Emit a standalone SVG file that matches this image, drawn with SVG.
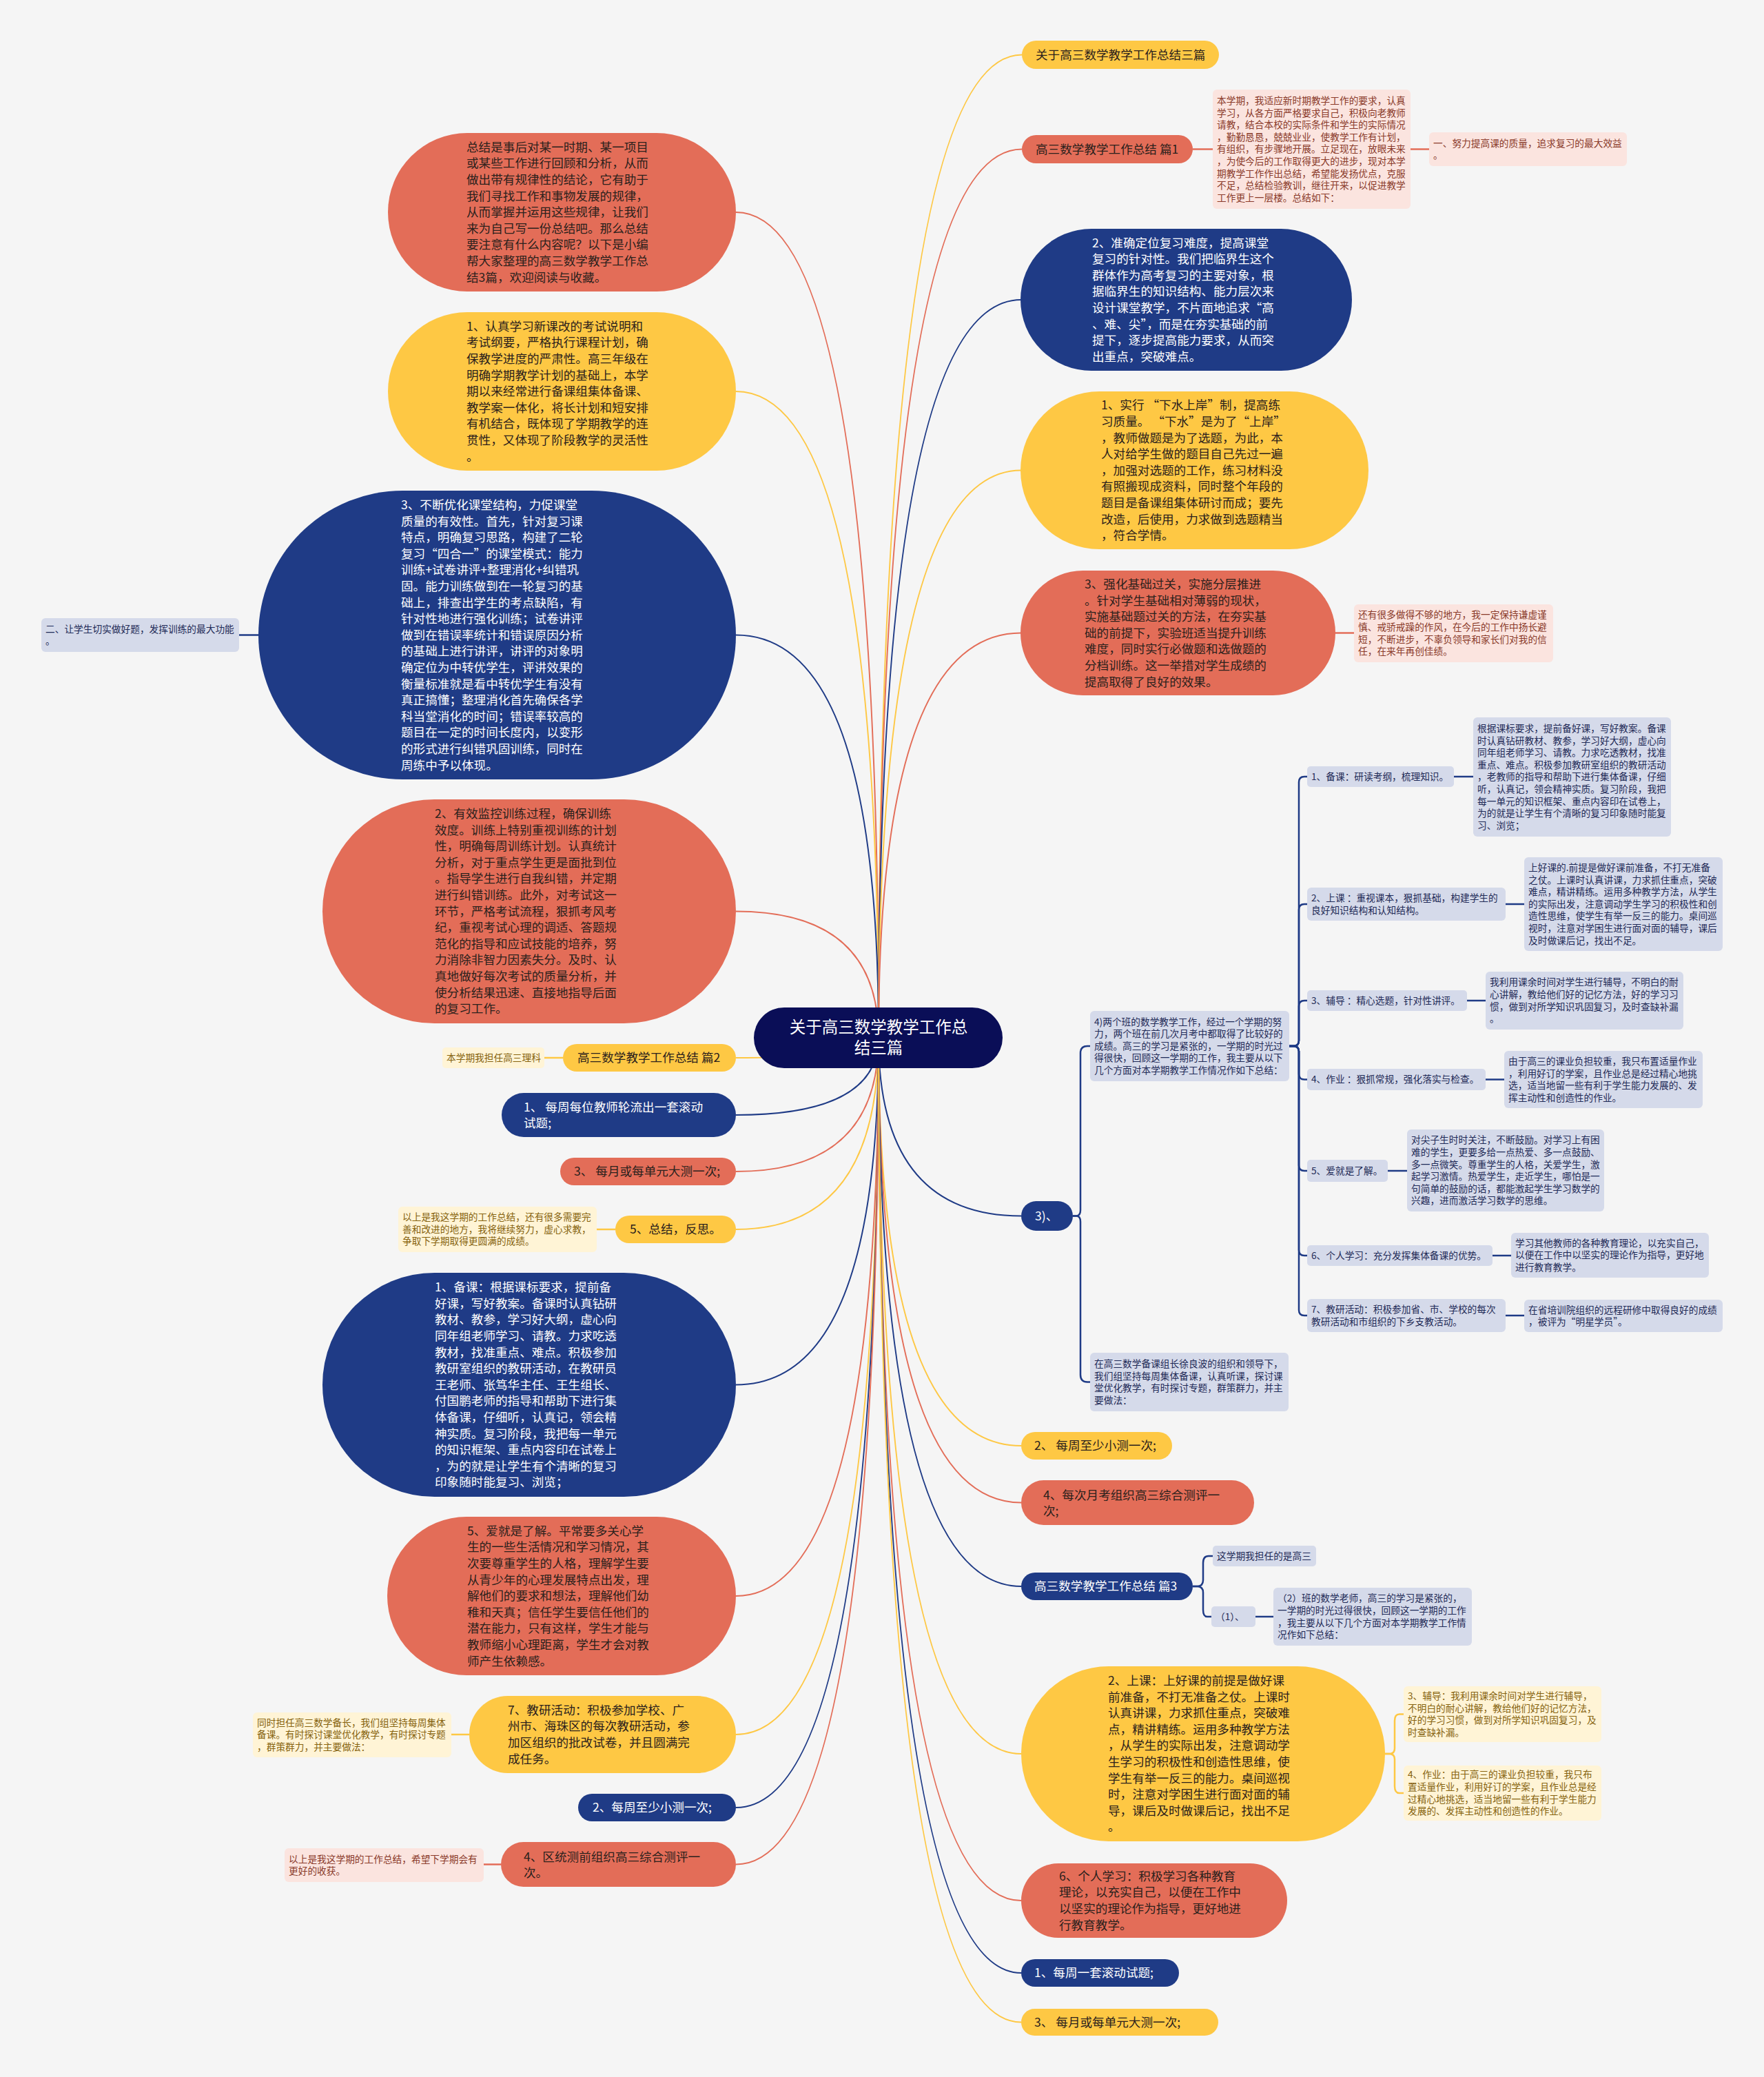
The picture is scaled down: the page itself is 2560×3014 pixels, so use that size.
<svg xmlns="http://www.w3.org/2000/svg" width="2560" height="3014" viewBox="0 0 2560 3014">
<style>
text{font-family:"Noto Sans CJK SC","Noto Sans",sans-serif;}
.L{font-size:17.6px}
.S{font-size:13.7px}
.C{font-size:23.5px}
.dk{fill:#2B211C}
.wt{fill:#FFFFFF}
.red{fill:#E36D58}
.yel{fill:#FEC844}
.blu{fill:#1F3B86}
.ctr{fill:#0A0E57}
.bp{fill:#FBE4DF}.tp{fill:#8A3A2A}
.by{fill:#FFF4D6}.ty{fill:#86630F}
.bb{fill:#D5DAEA}.tb{fill:#1F2A57}
.cr,.cy,.cb{fill:none;stroke-width:2}
.cr{stroke:#E36D58}.cy{stroke:#FEC844}.cb{stroke:#1F3B86}
.k{stroke-width:2.5}
</style>
<rect x="0" y="0" width="2560" height="3014" fill="#F5F5F5"/>

<g id="connectors">
<!-- center to left -->
<path class="cr" d="M1275,1506 Q1275,308 1068,308"/>
<path class="cy" d="M1275,1506 Q1275,568 1068,568"/>
<path class="cb" d="M1275,1506 Q1275,921.5 1068,921.5"/>
<path class="cr" d="M1275,1506 Q1275,1322.5 1068,1322.5"/>
<path class="cy" d="M1275,1506 Q1275,1535 1068,1535"/>
<path class="cb" d="M1275,1506 Q1275,1618 1068,1618"/>
<path class="cr" d="M1275,1506 Q1275,1700 1068,1700"/>
<path class="cy" d="M1275,1506 Q1275,1784 1068,1784"/>
<path class="cb" d="M1275,1506 Q1275,2009.5 1068,2009.5"/>
<path class="cr" d="M1275,1506 Q1275,2316 1068,2316"/>
<path class="cy" d="M1275,1506 Q1275,2517 1068,2517"/>
<path class="cb" d="M1275,1506 Q1275,2623 1068,2623"/>
<path class="cr" d="M1275,1506 Q1275,2705.5 1068,2705.5"/>
<!-- center to right -->
<path class="cy" d="M1275,1506 Q1275,79.5 1483,79.5"/>
<path class="cr" d="M1275,1506 Q1275,216.5 1483,216.5"/>
<path class="cb" d="M1275,1506 Q1275,435 1482,435"/>
<path class="cy" d="M1275,1506 Q1275,682.5 1482,682.5"/>
<path class="cr" d="M1275,1506 Q1275,918.5 1482,918.5"/>
<path class="cb" d="M1275,1506 Q1275,1764.5 1482,1764.5"/>
<path class="cy" d="M1275,1506 Q1275,2098 1482,2098"/>
<path class="cr" d="M1275,1506 Q1275,2180.5 1482,2180.5"/>
<path class="cb" d="M1275,1506 Q1275,2302 1482,2302"/>
<path class="cy" d="M1275,1506 Q1275,2545 1482,2545"/>
<path class="cr" d="M1275,1506 Q1275,2758 1482,2758"/>
<path class="cb" d="M1275,1506 Q1275,2863 1482,2863"/>
<path class="cy" d="M1275,1506 Q1275,2934.5 1482,2934.5"/>
<!-- left leaves -->
<path class="cb k" d="M375,921.5 H347"/>
<path class="cy k" d="M817,1535 H790"/>
<path class="cy k" d="M893,1784 H866"/>
<path class="cy k" d="M681,2517 H655"/>
<path class="cr k" d="M727,2705.5 H702"/>
<!-- right leaves -->
<path class="cr k" d="M1731,216.5 H1760 M2047,216.5 H2074"/>
<path class="cr k" d="M1938,918.5 H1965"/>
<path class="cb k" d="M1557,1764.5 H1562 Q1568,1764.5 1568,1756 V1528 Q1568,1518 1578,1518 H1582"/>
<path class="cb k" d="M1557,1764.5 H1562 Q1568,1764.5 1568,1773 V1995 Q1568,2005.5 1578,2005.5 H1582"/>
<path class="cb k" d="M1871,1518 H1877 Q1885,1518 1885,1510 V1135 Q1885,1127 1893,1127 H1897"/>
<path class="cb k" d="M1871,1518 H1877 Q1885,1518 1885,1510 V1320 Q1885,1312 1893,1312 H1897"/>
<path class="cb k" d="M1871,1518 H1877 Q1885,1518 1885,1510 V1460 Q1885,1452 1893,1452 H1897"/>
<path class="cb k" d="M1871,1518 H1877 Q1885,1518 1885,1526 V1558.5 Q1885,1566.5 1893,1566.5 H1897"/>
<path class="cb k" d="M1871,1518 H1877 Q1885,1518 1885,1526 V1691 Q1885,1699 1893,1699 H1897"/>
<path class="cb k" d="M1871,1518 H1877 Q1885,1518 1885,1526 V1814 Q1885,1822 1893,1822 H1897"/>
<path class="cb k" d="M1871,1518 H1877 Q1885,1518 1885,1526 V1901 Q1885,1909 1893,1909 H1897"/>
<path class="cb k" d="M2110,1127 H2138 M2185,1312 H2212 M2129,1452 H2156 M2156,1566.5 H2183 M2014,1699 H2042 M2166,1822 H2193 M2185,1909 H2212"/>
<path class="cb k" d="M1731,2302 H1737 Q1746,2302 1746,2293 V2268 Q1746,2258 1754,2258 H1760"/>
<path class="cb k" d="M1731,2302 H1737 Q1746,2302 1746,2311 V2336 Q1746,2346 1752,2346 H1758"/>
<path class="cb k" d="M1822,2346 H1848"/>
<path class="cy k" d="M2010,2545 H2016 Q2024,2545 2024,2537 V2497 Q2024,2487.5 2031,2487.5 H2037"/>
<path class="cy k" d="M2010,2545 H2016 Q2024,2545 2024,2553 V2592 Q2024,2602 2031,2602 H2037"/>
</g>

<g id="center">
<rect class="ctr" x="1094" y="1462" width="361" height="88" rx="44"/>
<text class="C wt" text-anchor="middle"><tspan x="1275" y="1499">关于高三数学教学工作总</tspan><tspan x="1275" y="1529">结三篇</tspan></text>
</g>

<g id="n-intro">
<rect class="red" x="563" y="193" width="505" height="230" rx="115"/>
<text class="L dk" x="677" y="219.8"><tspan x="677">总结是事后对某一时期、某一项目</tspan><tspan x="677" dy="23.6">或某些工作进行回顾和分析，从而</tspan><tspan x="677" dy="23.6">做出带有规律性的结论，它有助于</tspan><tspan x="677" dy="23.6">我们寻找工作和事物发展的规律，</tspan><tspan x="677" dy="23.6">从而掌握并运用这些规律，让我们</tspan><tspan x="677" dy="23.6">来为自己写一份总结吧。那么总结</tspan><tspan x="677" dy="23.6">要注意有什么内容呢？以下是小编</tspan><tspan x="677" dy="23.6">帮大家整理的高三数学教学工作总</tspan><tspan x="677" dy="23.6">结3篇，欢迎阅读与收藏。</tspan></text>
</g>

<g id="n-l-1">
<rect class="yel" x="563" y="453" width="505" height="230" rx="115"/>
<text class="L dk" x="677" y="479.8"><tspan x="677">1、认真学习新课改的考试说明和</tspan><tspan x="677" dy="23.6">考试纲要，严格执行课程计划，确</tspan><tspan x="677" dy="23.6">保教学进度的严肃性。高三年级在</tspan><tspan x="677" dy="23.6">明确学期教学计划的基础上，本学</tspan><tspan x="677" dy="23.6">期以来经常进行备课组集体备课、</tspan><tspan x="677" dy="23.6">教学案一体化，将长计划和短安排</tspan><tspan x="677" dy="23.6">有机结合，既体现了学期教学的连</tspan><tspan x="677" dy="23.6">贯性，又体现了阶段教学的灵活性</tspan><tspan x="677" dy="23.6">。</tspan></text>
</g>

<g id="n-l-3">
<rect class="blu" x="375" y="712" width="693" height="419" rx="209.5"/>
<text class="L wt" x="582" y="738.9"><tspan x="582">3、不断优化课堂结构，力促课堂</tspan><tspan x="582" dy="23.6">质量的有效性。首先，针对复习课</tspan><tspan x="582" dy="23.6">特点，明确复习思路，构建了二轮</tspan><tspan x="582" dy="23.6">复习“四合一”的课堂模式：能力</tspan><tspan x="582" dy="23.6">训练+试卷讲评+整理消化+纠错巩</tspan><tspan x="582" dy="23.6">固。能力训练做到在一轮复习的基</tspan><tspan x="582" dy="23.6">础上，排查出学生的考点缺陷，有</tspan><tspan x="582" dy="23.6">针对性地进行强化训练；试卷讲评</tspan><tspan x="582" dy="23.6">做到在错误率统计和错误原因分析</tspan><tspan x="582" dy="23.6">的基础上进行讲评，讲评的对象明</tspan><tspan x="582" dy="23.6">确定位为中转优学生，评讲效果的</tspan><tspan x="582" dy="23.6">衡量标准就是看中转优学生有没有</tspan><tspan x="582" dy="23.6">真正搞懂；整理消化首先确保各学</tspan><tspan x="582" dy="23.6">科当堂消化的时间；错误率较高的</tspan><tspan x="582" dy="23.6">题目在一定的时间长度内，以变形</tspan><tspan x="582" dy="23.6">的形式进行纠错巩固训练，同时在</tspan><tspan x="582" dy="23.6">周练中予以体现。</tspan></text>
</g>
<g id="n-l-3-leaf">
<rect class="bb" x="60" y="897" width="287" height="49" rx="6"/>
<text class="S tb" x="66" y="917.5"><tspan x="66">二、让学生切实做好题，发挥训练的最大功能</tspan><tspan x="66" dy="17.6">。</tspan></text>
</g>

<g id="n-l-2">
<rect class="red" x="468" y="1160" width="600" height="325" rx="162.5"/>
<text class="L dk" x="631" y="1187"><tspan x="631">2、有效监控训练过程，确保训练</tspan><tspan x="631" dy="23.6">效度。训练上特别重视训练的计划</tspan><tspan x="631" dy="23.6">性，明确每周训练计划。认真统计</tspan><tspan x="631" dy="23.6">分析，对于重点学生更是面批到位</tspan><tspan x="631" dy="23.6">。指导学生进行自我纠错，并定期</tspan><tspan x="631" dy="23.6">进行纠错训练。此外，对考试这一</tspan><tspan x="631" dy="23.6">环节，严格考试流程，狠抓考风考</tspan><tspan x="631" dy="23.6">纪，重视考试心理的调适、答题规</tspan><tspan x="631" dy="23.6">范化的指导和应试技能的培养，努</tspan><tspan x="631" dy="23.6">力消除非智力因素失分。及时、认</tspan><tspan x="631" dy="23.6">真地做好每次考试的质量分析，并</tspan><tspan x="631" dy="23.6">使分析结果迅速、直接地指导后面</tspan><tspan x="631" dy="23.6">的复习工作。</tspan></text>
</g>

<g id="n-pian2">
<rect class="yel" x="817" y="1515" width="251" height="40" rx="20"/>
<text class="L dk" x="838" y="1541.2">高三数学教学工作总结 篇2</text>
</g>
<g id="n-pian2-leaf">
<rect class="by" x="642" y="1520" width="148" height="30" rx="5"/>
<text class="S ty" x="648" y="1539.8">本学期我担任高三理科</text>
</g>

<g id="n-l-week1">
<rect class="blu" x="728" y="1586" width="340" height="64" rx="32"/>
<text class="L wt" x="760" y="1612.8"><tspan x="760">1、 每周每位教师轮流出一套滚动</tspan><tspan x="760" dy="23.6">试题;</tspan></text>
</g>
<g id="n-l-month3">
<rect class="red" x="813" y="1680" width="255" height="40" rx="20"/>
<text class="L dk" x="833" y="1706.2">3、 每月或每单元大测一次;</text>
</g>
<g id="n-l-5sum">
<rect class="yel" x="893" y="1764" width="175" height="40" rx="20"/>
<text class="L dk" x="914" y="1790.2">5、总结，反思。</text>
</g>
<g id="n-l-5sum-leaf">
<rect class="by" x="578" y="1751" width="288" height="66" rx="6"/>
<text class="S ty" x="584" y="1771.2"><tspan x="584">以上是我这学期的工作总结，还有很多需要完</tspan><tspan x="584" dy="17.6">善和改进的地方，我将继续努力，虚心求教，</tspan><tspan x="584" dy="17.6">争取下学期取得更圆满的成绩。</tspan></text>
</g>

<g id="n-l-beike">
<rect class="blu" x="468" y="1847" width="600" height="325" rx="162.5"/>
<text class="L wt" x="631" y="1874.1"><tspan x="631">1、备课：根据课标要求，提前备</tspan><tspan x="631" dy="23.6">好课，写好教案。备课时认真钻研</tspan><tspan x="631" dy="23.6">教材、教参，学习好大纲，虚心向</tspan><tspan x="631" dy="23.6">同年组老师学习、请教。力求吃透</tspan><tspan x="631" dy="23.6">教材，找准重点、难点。积极参加</tspan><tspan x="631" dy="23.6">教研室组织的教研活动，在教研员</tspan><tspan x="631" dy="23.6">王老师、张笃华主任、王生组长、</tspan><tspan x="631" dy="23.6">付国鹏老师的指导和帮助下进行集</tspan><tspan x="631" dy="23.6">体备课，仔细听，认真记，领会精</tspan><tspan x="631" dy="23.6">神实质。复习阶段，我把每一单元</tspan><tspan x="631" dy="23.6">的知识框架、重点内容印在试卷上</tspan><tspan x="631" dy="23.6">，为的就是让学生有个清晰的复习</tspan><tspan x="631" dy="23.6">印象随时能复习、浏览；</tspan></text>
</g>

<g id="n-l-love">
<rect class="red" x="562" y="2201" width="506" height="230" rx="115"/>
<text class="L dk" x="678" y="2227.8"><tspan x="678">5、爱就是了解。平常要多关心学</tspan><tspan x="678" dy="23.6">生的一些生活情况和学习情况，其</tspan><tspan x="678" dy="23.6">次要尊重学生的人格，理解学生要</tspan><tspan x="678" dy="23.6">从青少年的心理发展特点出发，理</tspan><tspan x="678" dy="23.6">解他们的要求和想法，理解他们幼</tspan><tspan x="678" dy="23.6">稚和天真；信任学生要信任他们的</tspan><tspan x="678" dy="23.6">潜在能力，只有这样，学生才能与</tspan><tspan x="678" dy="23.6">教师缩小心理距离，学生才会对教</tspan><tspan x="678" dy="23.6">师产生依赖感。</tspan></text>
</g>

<g id="n-l-jiaoyan">
<rect class="yel" x="681" y="2461" width="387" height="112" rx="56"/>
<text class="L dk" x="737" y="2487.8"><tspan x="737">7、教研活动：积极参加学校、广</tspan><tspan x="737" dy="23.6">州市、海珠区的每次教研活动，参</tspan><tspan x="737" dy="23.6">加区组织的批改试卷，并且圆满完</tspan><tspan x="737" dy="23.6">成任务。</tspan></text>
</g>
<g id="n-l-jiaoyan-leaf">
<rect class="by" x="367" y="2485" width="288" height="65" rx="6"/>
<text class="S ty" x="373" y="2504.7"><tspan x="373">同时担任高三数学备长，我们组坚持每周集体</tspan><tspan x="373" dy="17.6">备课。有时探讨课堂优化教学，有时探讨专题</tspan><tspan x="373" dy="17.6">，群策群力，并主要做法：</tspan></text>
</g>

<g id="n-l-week2">
<rect class="blu" x="839" y="2603" width="229" height="40" rx="20"/>
<text class="L wt" x="860" y="2629.2">2、每周至少小测一次;</text>
</g>
<g id="n-l-qu4">
<rect class="red" x="727" y="2673" width="341" height="65" rx="32.5"/>
<text class="L dk" x="760" y="2701"><tspan x="760">4、区统测前组织高三综合测评一</tspan><tspan x="760" dy="23">次。</tspan></text>
</g>
<g id="n-l-qu4-leaf">
<rect class="bp" x="413" y="2682" width="289" height="49" rx="6"/>
<text class="S tp" x="419" y="2702.5"><tspan x="419">以上是我这学期的工作总结，希望下学期会有</tspan><tspan x="419" dy="17.6">更好的收获。</tspan></text>
</g>

<!-- right side -->
<g id="n-r-title">
<rect class="yel" x="1483" y="59" width="286" height="41" rx="20.5"/>
<text class="L dk" x="1503" y="85.7">关于高三数学教学工作总结三篇</text>
</g>

<g id="n-pian1">
<rect class="red" x="1483" y="196" width="248" height="41" rx="20.5"/>
<text class="L dk" x="1503" y="222.7">高三数学教学工作总结 篇1</text>
</g>
<g id="n-pian1-intro">
<rect class="bp" x="1760" y="130" width="287" height="173" rx="6"/>
<text class="S tp" x="1766" y="150.9"><tspan x="1766">本学期，我适应新时期教学工作的要求，认真</tspan><tspan x="1766" dy="17.6">学习，从各方面严格要求自己，积极向老教师</tspan><tspan x="1766" dy="17.6">请教，结合本校的实际条件和学生的实际情况</tspan><tspan x="1766" dy="17.6">，勤勤恳恳，兢兢业业，使教学工作有计划，</tspan><tspan x="1766" dy="17.6">有组织，有步骤地开展。立足现在，放眼未来</tspan><tspan x="1766" dy="17.6">，为使今后的工作取得更大的进步，现对本学</tspan><tspan x="1766" dy="17.6">期教学工作作出总结，希望能发扬优点，克服</tspan><tspan x="1766" dy="17.6">不足，总结检验教训，继往开来，以促进教学</tspan><tspan x="1766" dy="17.6">工作更上一层楼。总结如下：</tspan></text>
</g>
<g id="n-pian1-one">
<rect class="bp" x="2074" y="192" width="287" height="49" rx="6"/>
<text class="S tp" x="2080" y="212.5"><tspan x="2080">一、努力提高课的质量，追求复习的最大效益</tspan><tspan x="2080" dy="17.6">。</tspan></text>
</g>

<g id="n-r-2">
<rect class="blu" x="1481" y="332" width="481" height="206" rx="103"/>
<text class="L wt" x="1585" y="358.6"><tspan x="1585">2、准确定位复习难度，提高课堂</tspan><tspan x="1585" dy="23.6">复习的针对性。我们把临界生这个</tspan><tspan x="1585" dy="23.6">群体作为高考复习的主要对象，根</tspan><tspan x="1585" dy="23.6">据临界生的知识结构、能力层次来</tspan><tspan x="1585" dy="23.6">设计课堂教学，不片面地追求“高</tspan><tspan x="1585" dy="23.6">、难、尖”，而是在夯实基础的前</tspan><tspan x="1585" dy="23.6">提下，逐步提高能力要求，从而突</tspan><tspan x="1585" dy="23.6">出重点，突破难点。</tspan></text>
</g>

<g id="n-r-1">
<rect class="yel" x="1481" y="568" width="505" height="229" rx="114.5"/>
<text class="L dk" x="1598" y="594.3"><tspan x="1598">1、实行 “下水上岸”制，提高练</tspan><tspan x="1598" dy="23.6">习质量。 “下水”是为了“上岸”</tspan><tspan x="1598" dy="23.6">，教师做题是为了选题，为此，本</tspan><tspan x="1598" dy="23.6">人对给学生做的题目自己先过一遍</tspan><tspan x="1598" dy="23.6">，加强对选题的工作，练习材料没</tspan><tspan x="1598" dy="23.6">有照搬现成资料，同时整个年段的</tspan><tspan x="1598" dy="23.6">题目是备课组集体研讨而成；要先</tspan><tspan x="1598" dy="23.6">改造，后使用，力求做到选题精当</tspan><tspan x="1598" dy="23.6">，符合学情。</tspan></text>
</g>

<g id="n-r-3">
<rect class="red" x="1481" y="828" width="457" height="181" rx="90.5"/>
<text class="L dk" x="1574" y="853.9"><tspan x="1574">3、强化基础过关，实施分层推进</tspan><tspan x="1574" dy="23.6">。针对学生基础相对薄弱的现状，</tspan><tspan x="1574" dy="23.6">实施基础题过关的方法，在夯实基</tspan><tspan x="1574" dy="23.6">础的前提下，实验班适当提升训练</tspan><tspan x="1574" dy="23.6">难度，同时实行必做题和选做题的</tspan><tspan x="1574" dy="23.6">分档训练。这一举措对学生成绩的</tspan><tspan x="1574" dy="23.6">提高取得了良好的效果。</tspan></text>
</g>
<g id="n-r-3-leaf">
<rect class="bp" x="1965" y="877" width="289" height="84" rx="6"/>
<text class="S tp" x="1971" y="897.4"><tspan x="1971">还有很多做得不够的地方，我一定保持谦虚谨</tspan><tspan x="1971" dy="17.6">慎、戒骄戒躁的作风，在今后的工作中扬长避</tspan><tspan x="1971" dy="17.6">短，不断进步，不辜负领导和家长们对我的信</tspan><tspan x="1971" dy="17.6">任，在来年再创佳绩。</tspan></text>
</g>

<g id="n-r-3bracket">
<rect class="blu" x="1482" y="1743" width="75" height="43" rx="21.5"/>
<text class="L wt" x="1502" y="1770.7">3)、</text>
</g>
<g id="n-two-classes">
<rect class="bb" x="1582" y="1467" width="289" height="102" rx="6"/>
<text class="S tb" x="1588" y="1487.6"><tspan x="1588">4)两个班的数学教学工作，经过一个学期的努</tspan><tspan x="1588" dy="17.6">力，两个班在前几次月考中都取得了比较好的</tspan><tspan x="1588" dy="17.6">成绩。高三的学习是紧张的，一学期的时光过</tspan><tspan x="1588" dy="17.6">得很快，回顾这一学期的工作，我主要从以下</tspan><tspan x="1588" dy="17.6">几个方面对本学期教学工作情况作如下总结：</tspan></text>
</g>
<g id="n-group-lead">
<rect class="bb" x="1582" y="1963" width="288" height="85" rx="6"/>
<text class="S tb" x="1588" y="1983.9"><tspan x="1588">在高三数学备课组长徐良波的组织和领导下，</tspan><tspan x="1588" dy="17.6">我们组坚持每周集体备课，认真听课，探讨课</tspan><tspan x="1588" dy="17.6">堂优化教学，有时探讨专题，群策群力，并主</tspan><tspan x="1588" dy="17.6">要做法：</tspan></text>
</g>

<g id="n-item1">
<rect class="bb" x="1897" y="1112" width="213" height="30" rx="5"/>
<text class="S tb" x="1903" y="1131.8">1、备课：研读考纲，梳理知识。</text>
</g>
<g id="n-item1-d">
<rect class="bb" x="2138" y="1041" width="287" height="173" rx="6"/>
<text class="S tb" x="2144" y="1061.9"><tspan x="2144">根据课标要求，提前备好课，写好教案。备课</tspan><tspan x="2144" dy="17.6">时认真钻研教材、教参，学习好大纲，虚心向</tspan><tspan x="2144" dy="17.6">同年组老师学习、请教。力求吃透教材，找准</tspan><tspan x="2144" dy="17.6">重点、难点。积极参加教研室组织的教研活动</tspan><tspan x="2144" dy="17.6">，老教师的指导和帮助下进行集体备课，仔细</tspan><tspan x="2144" dy="17.6">听，认真记，领会精神实质。复习阶段，我把</tspan><tspan x="2144" dy="17.6">每一单元的知识框架、重点内容印在试卷上，</tspan><tspan x="2144" dy="17.6">为的就是让学生有个清晰的复习印象随时能复</tspan><tspan x="2144" dy="17.6">习、浏览；</tspan></text>
</g>
<g id="n-item2">
<rect class="bb" x="1897" y="1288" width="288" height="48" rx="6"/>
<text class="S tb" x="1903" y="1308"><tspan x="1903">2、上课 ：重视课本，狠抓基础，构建学生的</tspan><tspan x="1903" dy="17.6">良好知识结构和认知结构。</tspan></text>
</g>
<g id="n-item2-d">
<rect class="bb" x="2212" y="1244" width="288" height="136" rx="6"/>
<text class="S tb" x="2218" y="1264"><tspan x="2218">上好课的.前提是做好课前准备，不打无准备</tspan><tspan x="2218" dy="17.6">之仗。上课时认真讲课，力求抓住重点，突破</tspan><tspan x="2218" dy="17.6">难点，精讲精练。运用多种教学方法，从学生</tspan><tspan x="2218" dy="17.6">的实际出发，注意调动学生学习的积极性和创</tspan><tspan x="2218" dy="17.6">造性思维，使学生有举一反三的能力。桌间巡</tspan><tspan x="2218" dy="17.6">视时，注意对学困生进行面对面的辅导，课后</tspan><tspan x="2218" dy="17.6">及时做课后记，找出不足。</tspan></text>
</g>
<g id="n-item3">
<rect class="bb" x="1897" y="1437" width="232" height="30" rx="5"/>
<text class="S tb" x="1903" y="1456.8">3、辅导 ：精心选题，针对性讲评。</text>
</g>
<g id="n-item3-d">
<rect class="bb" x="2156" y="1410" width="287" height="84" rx="6"/>
<text class="S tb" x="2162" y="1430.4"><tspan x="2162">我利用课余时间对学生进行辅导，不明白的耐</tspan><tspan x="2162" dy="17.6">心讲解，教给他们好的记忆方法，好的学习习</tspan><tspan x="2162" dy="17.6">惯，做到对所学知识巩固复习，及时查缺补漏</tspan><tspan x="2162" dy="17.6">。</tspan></text>
</g>
<g id="n-item4">
<rect class="bb" x="1897" y="1551" width="259" height="31" rx="5"/>
<text class="S tb" x="1903" y="1571.3">4、作业 ：狠抓常规，强化落实与检查。</text>
</g>
<g id="n-item4-d">
<rect class="bb" x="2183" y="1525" width="288" height="83" rx="6"/>
<text class="S tb" x="2189" y="1544.9"><tspan x="2189">由于高三的课业负担较重，我只布置适量作业</tspan><tspan x="2189" dy="17.6">，利用好订的学案，且作业总是经过精心地挑</tspan><tspan x="2189" dy="17.6">选，适当地留一些有利于学生能力发展的、发</tspan><tspan x="2189" dy="17.6">挥主动性和创造性的作业。</tspan></text>
</g>
<g id="n-item5">
<rect class="bb" x="1897" y="1683" width="117" height="32" rx="5"/>
<text class="S tb" x="1903" y="1703.8">5、爱就是了解。</text>
</g>
<g id="n-item5-d">
<rect class="bb" x="2042" y="1639" width="286" height="119" rx="6"/>
<text class="S tb" x="2048" y="1659.3"><tspan x="2048">对尖子生时时关注，不断鼓励。对学习上有困</tspan><tspan x="2048" dy="17.6">难的学生，更要多给一点热爱、多一点鼓励、</tspan><tspan x="2048" dy="17.6">多一点微笑。尊重学生的人格，关爱学生，激</tspan><tspan x="2048" dy="17.6">起学习激情。热爱学生，走近学生，哪怕是一</tspan><tspan x="2048" dy="17.6">句简单的鼓励的话，都能激起学生学习数学的</tspan><tspan x="2048" dy="17.6">兴趣，进而激活学习数学的思维。</tspan></text>
</g>
<g id="n-item6">
<rect class="bb" x="1897" y="1807" width="269" height="30" rx="5"/>
<text class="S tb" x="1903" y="1826.8">6、个人学习：充分发挥集体备课的优势。</text>
</g>
<g id="n-item6-d">
<rect class="bb" x="2193" y="1789" width="287" height="65" rx="6"/>
<text class="S tb" x="2199" y="1808.7"><tspan x="2199">学习其他教师的各种教育理论，以充实自己，</tspan><tspan x="2199" dy="17.6">以便在工作中以坚实的理论作为指导，更好地</tspan><tspan x="2199" dy="17.6">进行教育教学。</tspan></text>
</g>
<g id="n-item7">
<rect class="bb" x="1897" y="1885" width="288" height="48" rx="6"/>
<text class="S tb" x="1903" y="1905"><tspan x="1903">7、教研活动：积极参加省、市、学校的每次</tspan><tspan x="1903" dy="17.6">教研活动和市组织的下乡支教活动。</tspan></text>
</g>
<g id="n-item7-d">
<rect class="bb" x="2212" y="1886" width="288" height="47" rx="6"/>
<text class="S tb" x="2218" y="1905.5"><tspan x="2218">在省培训院组织的远程研修中取得良好的成绩</tspan><tspan x="2218" dy="17.6">，被评为“明星学员”。</tspan></text>
</g>

<g id="n-r-week2">
<rect class="yel" x="1482" y="2078" width="219" height="40" rx="20"/>
<text class="L dk" x="1501" y="2104.2">2、 每周至少小测一次;</text>
</g>
<g id="n-r-month4">
<rect class="red" x="1482" y="2148" width="338" height="65" rx="32.5"/>
<text class="L dk" x="1514" y="2176"><tspan x="1514">4、每次月考组织高三综合测评一</tspan><tspan x="1514" dy="23">次;</tspan></text>
</g>

<g id="n-pian3">
<rect class="blu" x="1482" y="2282" width="249" height="40" rx="20"/>
<text class="L wt" x="1501" y="2308.2">高三数学教学工作总结 篇3</text>
</g>
<g id="n-pian3-a">
<rect class="bb" x="1760" y="2243" width="150" height="30" rx="5"/>
<text class="S tb" x="1766" y="2262.8">这学期我担任的是高三</text>
</g>
<g id="n-pian3-b">
<rect class="bb" x="1758" y="2331" width="64" height="30" rx="5"/>
<text class="S tb" x="1764" y="2350.8">（1）、</text>
</g>
<g id="n-pian3-c">
<rect class="bb" x="1848" y="2304" width="288" height="84" rx="6"/>
<text class="S tb" x="1854" y="2324.4"><tspan x="1854">（2）班的数学老师，高三的学习是紧张的，</tspan><tspan x="1854" dy="17.6">一学期的时光过得很快，回顾这一学期的工作</tspan><tspan x="1854" dy="17.6">，我主要从以下几个方面对本学期教学工作情</tspan><tspan x="1854" dy="17.6">况作如下总结：</tspan></text>
</g>

<g id="n-r-shangke">
<rect class="yel" x="1482" y="2418" width="528" height="254" rx="127"/>
<text class="L dk" x="1608" y="2445"><tspan x="1608">2、上课：上好课的前提是做好课</tspan><tspan x="1608" dy="23.6">前准备，不打无准备之仗。上课时</tspan><tspan x="1608" dy="23.6">认真讲课，力求抓住重点，突破难</tspan><tspan x="1608" dy="23.6">点，精讲精练。运用多种教学方法</tspan><tspan x="1608" dy="23.6">，从学生的实际出发，注意调动学</tspan><tspan x="1608" dy="23.6">生学习的积极性和创造性思维，使</tspan><tspan x="1608" dy="23.6">学生有举一反三的能力。桌间巡视</tspan><tspan x="1608" dy="23.6">时，注意对学困生进行面对面的辅</tspan><tspan x="1608" dy="23.6">导，课后及时做课后记，找出不足</tspan><tspan x="1608" dy="23.6">。</tspan></text>
</g>
<g id="n-r-shangke-a">
<rect class="by" x="2037" y="2447" width="287" height="81" rx="6"/>
<text class="S ty" x="2043" y="2465.9"><tspan x="2043">3、辅导：我利用课余时间对学生进行辅导，</tspan><tspan x="2043" dy="17.6">不明白的耐心讲解，教给他们好的记忆方法，</tspan><tspan x="2043" dy="17.6">好的学习习惯，做到对所学知识巩固复习，及</tspan><tspan x="2043" dy="17.6">时查缺补漏。</tspan></text>
</g>
<g id="n-r-shangke-b">
<rect class="by" x="2037" y="2562" width="287" height="80" rx="6"/>
<text class="S ty" x="2043" y="2580.4"><tspan x="2043">4、作业：由于高三的课业负担较重，我只布</tspan><tspan x="2043" dy="17.6">置适量作业，利用好订的学案，且作业总是经</tspan><tspan x="2043" dy="17.6">过精心地挑选，适当地留一些有利于学生能力</tspan><tspan x="2043" dy="17.6">发展的、发挥主动性和创造性的作业。</tspan></text>
</g>

<g id="n-r-6">
<rect class="red" x="1482" y="2704" width="386" height="108" rx="54"/>
<text class="L dk" x="1537" y="2728.8"><tspan x="1537">6、个人学习：积极学习各种教育</tspan><tspan x="1537" dy="23.6">理论，以充实自己，以便在工作中</tspan><tspan x="1537" dy="23.6">以坚实的理论作为指导，更好地进</tspan><tspan x="1537" dy="23.6">行教育教学。</tspan></text>
</g>

<g id="n-r-week1">
<rect class="blu" x="1482" y="2843" width="229" height="40" rx="20"/>
<text class="L wt" x="1501" y="2869.2">1、每周一套滚动试题;</text>
</g>
<g id="n-r-month3">
<rect class="yel" x="1482" y="2915" width="286" height="39" rx="19.5"/>
<text class="L dk" x="1501" y="2940.7">3、 每月或每单元大测一次;</text>
</g>
</svg>
